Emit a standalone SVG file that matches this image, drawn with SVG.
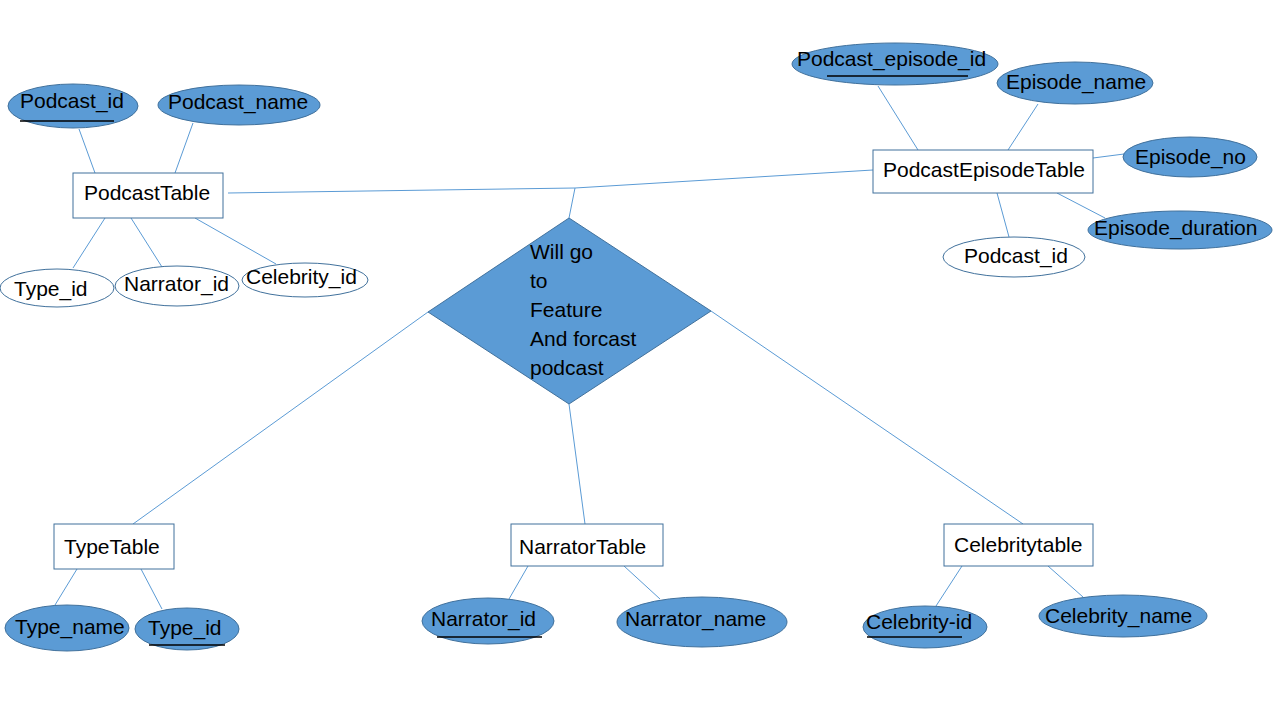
<svg xmlns="http://www.w3.org/2000/svg" width="1280" height="720" viewBox="0 0 1280 720">
<style>
.bg{fill:#ffffff}
.line{stroke:#5B9BD5;stroke-width:1;fill:none}
.ent{fill:#ffffff;stroke:#41719C;stroke-width:1}
.attr{fill:#5B9BD5;stroke:#41719C;stroke-width:1}
.fk{fill:#ffffff;stroke:#41719C;stroke-width:1}
.ul{stroke:#000000;stroke-width:1.3}
text{font-family:"Liberation Sans",Arial,sans-serif;font-size:21px;fill:#000000}
</style>
<rect class="bg" x="0" y="0" width="1280" height="720"/>
<g id="connectors">
<line class="line" x1="228" y1="193" x2="575" y2="188"/>
<line class="line" x1="575" y1="188" x2="873" y2="170"/>
<line class="line" x1="575" y1="188" x2="569" y2="218"/>
<line class="line" x1="79" y1="129" x2="95" y2="173"/>
<line class="line" x1="193" y1="123" x2="175" y2="173"/>
<line class="line" x1="105" y1="218" x2="73" y2="268"/>
<line class="line" x1="131" y1="218" x2="162" y2="267"/>
<line class="line" x1="195" y1="218" x2="276" y2="264"/>
<line class="line" x1="878" y1="86" x2="918" y2="150"/>
<line class="line" x1="1038" y1="104" x2="1008" y2="150"/>
<line class="line" x1="1093" y1="158" x2="1124" y2="154"/>
<line class="line" x1="1057" y1="193" x2="1105" y2="218"/>
<line class="line" x1="997" y1="193" x2="1009" y2="237"/>
<line class="line" x1="428" y1="312" x2="133" y2="524"/>
<line class="line" x1="569" y1="404" x2="585" y2="524"/>
<line class="line" x1="711" y1="311" x2="1023" y2="524"/>
<line class="line" x1="77" y1="569" x2="55" y2="605"/>
<line class="line" x1="141" y1="569" x2="162" y2="609"/>
<line class="line" x1="528" y1="566" x2="509" y2="599"/>
<line class="line" x1="624" y1="566" x2="660" y2="599"/>
<line class="line" x1="962" y1="566" x2="936" y2="606"/>
<line class="line" x1="1048" y1="566" x2="1083" y2="597"/>
</g>
<g id="podcast-table">
<rect class="ent" x="73" y="173" width="150" height="45"/>
<text x="84" y="200">PodcastTable</text>
</g>
<g id="podcast-id">
<ellipse class="attr" cx="73" cy="106" rx="65" ry="22"/>
<text x="20" y="108">Podcast_id</text>
<line class="ul" x1="20" y1="121" x2="114" y2="121"/>
</g>
<g id="podcast-name">
<ellipse class="attr" cx="239" cy="105" rx="81" ry="20"/>
<text x="168" y="109">Podcast_name</text>
</g>
<g id="type-id-fk">
<ellipse class="fk" cx="57" cy="288" rx="57" ry="19"/>
<text x="14" y="296">Type_id</text>
</g>
<g id="narrator-id-fk">
<ellipse class="fk" cx="177" cy="286" rx="62" ry="20"/>
<text x="124" y="291">Narrator_id</text>
</g>
<g id="celebrity-id-fk">
<ellipse class="fk" cx="305" cy="280" rx="63" ry="17"/>
<text x="246" y="284">Celebrity_id</text>
</g>
<g id="episode-table">
<rect class="ent" x="873" y="150" width="220" height="43"/>
<text x="883" y="177">PodcastEpisodeTable</text>
</g>
<g id="podcast-episode-id">
<ellipse class="attr" cx="895" cy="64" rx="103" ry="21"/>
<text x="797" y="66">Podcast_episode_id</text>
<line class="ul" x1="827" y1="76" x2="968" y2="76"/>
</g>
<g id="episode-name">
<ellipse class="attr" cx="1075" cy="83" rx="78" ry="21"/>
<text x="1006" y="89">Episode_name</text>
</g>
<g id="episode-no">
<ellipse class="attr" cx="1190" cy="157" rx="67" ry="20"/>
<text x="1135" y="164">Episode_no</text>
</g>
<g id="episode-duration">
<ellipse class="attr" cx="1180" cy="230" rx="92" ry="19"/>
<text x="1094" y="235">Episode_duration</text>
</g>
<g id="episode-podcast-id">
<ellipse class="fk" cx="1014" cy="257" rx="71" ry="20"/>
<text x="964" y="263">Podcast_id</text>
</g>
<g id="relationship">
<polygon class="attr" points="569,218 711,311 569,404 428,312"/>
<text x="530" y="259">Will go</text>
<text x="530" y="288">to</text>
<text x="530" y="317">Feature</text>
<text x="530" y="346">And forcast</text>
<text x="530" y="375">podcast</text>
</g>
<g id="type-table">
<rect class="ent" x="54" y="524" width="120" height="45"/>
<text x="64" y="554">TypeTable</text>
</g>
<g id="type-name">
<ellipse class="attr" cx="67" cy="628" rx="62" ry="23"/>
<text x="15" y="634">Type_name</text>
</g>
<g id="type-id">
<ellipse class="attr" cx="187" cy="629" rx="52" ry="21"/>
<text x="148" y="635">Type_id</text>
<line class="ul" x1="149" y1="645" x2="225" y2="645"/>
</g>
<g id="narrator-table">
<rect class="ent" x="511" y="524" width="152" height="42"/>
<text x="519" y="554">NarratorTable</text>
</g>
<g id="narrator-id">
<ellipse class="attr" cx="488" cy="621" rx="66" ry="23"/>
<text x="431" y="626">Narrator_id</text>
<line class="ul" x1="437" y1="637" x2="542" y2="637"/>
</g>
<g id="narrator-name">
<ellipse class="attr" cx="702" cy="622" rx="85" ry="25"/>
<text x="625" y="626">Narrator_name</text>
</g>
<g id="celebrity-table">
<rect class="ent" x="944" y="524" width="149" height="42"/>
<text x="954" y="552">Celebritytable</text>
</g>
<g id="celebrity-id">
<ellipse class="attr" cx="925" cy="627" rx="62" ry="21"/>
<text x="866" y="629">Celebrity-id</text>
<line class="ul" x1="867" y1="637" x2="962" y2="637"/>
</g>
<g id="celebrity-name">
<ellipse class="attr" cx="1123" cy="616" rx="84" ry="21"/>
<text x="1045" y="623">Celebrity_name</text>
</g>
</svg>
